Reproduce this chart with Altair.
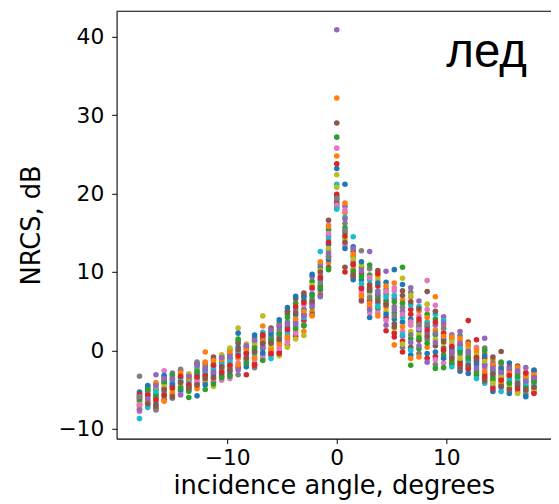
import altair as alt
import pandas as pd

# incidence angles (degrees), 49 beams
angles = [-18.0, -17.25, -16.5, -15.75, -15.0, -14.25, -13.5, -12.75, -12.0, -11.25,
          -10.5, -9.75, -9.0, -8.25, -7.5, -6.75, -6.0, -5.25, -4.5, -3.75,
          -3.0, -2.25, -1.5, -0.75, 0.0, 0.75, 1.5, 2.25, 3.0, 3.75,
          4.5, 5.25, 6.0, 6.75, 7.5, 8.25, 9.0, 9.75, 10.5, 11.25,
          12.0, 12.75, 13.5, 14.25, 15.0, 15.75, 16.5, 17.25, 18.0]

# NRCS values (dB) at each angle; position in a list = series number
left_far = [
    [-6.1, -5.4, -7.0, -5.8, -7.5, -6.5, -7.8, -3.3, -6.8, -8.7, -5.3, -7.2, -6.3, -5.6, -7.6, -6.0, -6.9, -5.9],
    [-5.2, -6.4, -4.6, -7.1, -5.8, -4.9, -6.9, -5.5, -6.1, -7.3, -4.5, -6.6, -5.0, -5.7, -6.2, -6.8],
    [-5.0, -6.6, -4.3, -7.4, -3.1, -5.6, -6.1, -7.6, -4.7, -5.3, -6.9, -4.1, -5.9, -6.3, -4.5, -7.1],
    [-4.2, -5.5, -3.4, -6.3, -4.8, -3.8, -2.6, -5.9, -4.5, -5.2, -3.2, -6.5, -4.0, -5.7, -3.6, -5.0],
    [-3.6, -5.0, -4.2, -5.7, -2.9, -4.6, -3.3, -6.1, -5.3, -3.9, -4.4, -5.5, -3.1, -4.8, -3.7, -5.9],
    [-4.0, -3.1, -5.2, -2.6, -4.6, -3.5, -5.5, -2.4, -4.3, -3.8, -5.0, -2.9, -4.8, -3.3, -5.7, -4.1],
    [-3.8, -4.5, -6.0, -3.2, -4.9, -3.5, -4.2, -5.1, -3.0, -4.0, -4.7, -3.6, -5.25, -4.4, -3.3, -4.8],
    [-5.8, -2.4, -3.6, -1.7, -4.2, -2.9, -3.9, -1.5, -4.6, -2.1, -3.2, -4.9, -2.7, -3.4, -1.9, -4.4],
    [-2.6, -0.2, -3.4, -1.6, -4.0, -2.2, -3.0, -1.9, -3.8, -2.8, -4.4, -1.5, -5.0, -3.2, -2.4, -3.6],
    [-2.0, -3.3, -1.1, -4.0, -2.6, -0.85, -3.7, -1.6, -4.6, -2.3, -3.0, -1.3, -4.3, -1.9, -2.8, -3.5],
    [-1.5, -2.6, -0.7, -3.3, -2.0, -1.0, -3.8, -2.3, -0.55, -1.8, -3.0, -1.2, -3.5, -2.8, -0.9, -2.1],
    [-1.0, -2.3, 0.1, -3.1, -1.6, -0.5, -3.6, -2.0, 0.3, -1.3, -2.7, -0.2, -3.3, -1.9, -0.8, -2.5],
]
left_near = [
    [0.4, -1.0, 1.2, -2.2, -0.4, 0.9, -1.6, -3.1, 2.85, -0.1, 2.2, -1.9, 1.45, -0.7, -2.5, 0.1],
    [-0.3, -1.4, 0.5, -3.1, -0.9, 0.2, -1.8, -0.6, 0.8, -1.2, -2.1, 0.0, -1.6, -0.4, 0.6, -1.0],
    [0.5, -0.8, 1.6, -1.7, 0.0, 1.1, -1.2, -2.2, 0.8, -0.4, 1.95, -1.0, 0.3, -1.9, 1.3, -0.2],
    [1.0, 3.1, 0.2, 1.8, -0.6, 1.4, -1.0, 0.6, 4.4, 2.3, -0.3, 1.2, -1.3, 2.0, 0.4, 0.9],
    [1.5, 0.2, 2.4, -0.6, 1.0, 2.85, -0.2, 1.8, 0.6, -1.05, 2.1, 0.0, 1.3, -0.4, 2.6, 0.9],
    [2.2, 0.6, 3.5, -0.2, 1.6, 3.0, 0.2, 2.6, -0.7, 1.2, 3.9, 0.9, 2.0, -0.4, 3.2, 1.4],
    [3.0, 1.4, 4.6, 0.7, 2.4, 5.0, 1.0, 3.6, 0.4, 2.0, 5.45, 1.7, 4.2, 2.7, 3.3, 4.9],
    [4.5, 2.5, 6.0, 1.8, 3.6, 6.6, 2.2, 5.2, 1.45, 3.1, 6.9, 4.0, 2.8, 5.6, 3.4, 4.8],
    [5.2, 2.4, 6.4, 3.8, 7.0, 4.6, 5.8, 3.3, 1.9, 4.2, 6.8, 5.0, 3.1, 6.1, 4.4, 7.3],
    [7.2, 5.0, 8.8, 6.0, 9.4, 4.6, 7.8, 5.5, 8.3, 6.6, 9.7, 4.4, 7.0, 8.0, 5.8, 6.3],
    [9.0, 7.4, 10.6, 8.2, 11.0, 7.0, 9.6, 8.6, 10.2, 12.6, 7.8, 11.3, 8.0, 9.3, 6.85, 10.0],
    [13.5, 11.2, 15.4, 12.0, 14.6, 10.6, 16.0, 12.8, 13.0, 14.2, 11.6, 15.8, 10.3, 13.8, 12.4, 16.6, 14.9, 11.9],
]
nadir = [
    [23.2, 32.2, 27.2, 23.8, 40.9, 29.0, 25.8, 18.6, 22.4, 21.2, 18.3, 24.8, 19.6, 19.9, 19.2, 18.9, 18.5, 19.4, 20.8, 18.0],
]
right_near = [
    [21.2, 17.6, 15.0, 10.0, 18.4, 10.6, 13.4, 16.2, 14.2, 17.0, 13.0, 18.8, 15.6, 14.6, 16.8, 13.8, 17.9, 15.3],
    [13.2, 10.4, 12.0, 9.4, 11.3, 12.6, 9.8, 10.9, 11.7, 14.5, 9.0, 12.3, 10.1, 11.0, 13.0, 9.6],
    [9.0, 7.2, 10.6, 8.0, 6.5, 9.8, 7.6, 12.7, 10.9, 8.5, 11.3, 6.9, 9.4, 7.9, 10.2, 6.3],
    [7.5, 5.6, 9.6, 6.3, 12.6, 8.4, 4.8, 10.4, 7.0, 9.0, 4.2, 6.0, 10.9, 8.0, 5.2, 7.8, 9.3, 6.7],
    [7.0, 9.5, 5.3, 8.2, 6.0, 10.2, 4.8, 7.6, 9.0, 5.6, 8.6, 4.4, 6.6, 9.8, 7.3, 6.3],
    [8.7, 5.5, 7.2, 4.2, 10.1, 6.4, 3.8, 7.8, 5.0, 6.8, 4.6, 8.2, 6.0, 2.5, 3.2, 5.8, 7.5],
    [10.3, 8.6, 4.8, 2.2, 6.6, 3.4, 7.6, 5.6, 2.8, 7.0, 4.0, 0.7, 6.2, 1.7, 5.2, 3.0, 8.0, 4.4],
    [3.6, 6.4, 10.6, 1.2, 5.0, 7.6, 2.4, 0.4, 9.2, 4.2, 8.4, 3.0, 6.0, -0.2, 1.8, 7.0, 4.6, 5.5, 0.8, 2.0],
    [4.0, 6.8, 1.5, 5.2, 8.0, 0.4, 3.2, 7.4, 2.4, 5.8, -0.6, -1.05, -1.9, 4.6, 1.0, 6.2, 3.6, 2.0, 7.0, 0.0],
    [2.5, 5.0, 0.2, 3.6, 6.3, 1.3, 4.4, -0.4, 2.0, 5.6, 3.0, -0.85, 1.6, 4.0, 0.6, 5.3, 2.8, 3.3],
    [3.0, 0.4, 4.6, -1.0, 2.2, 7.5, 8.9, 1.4, 5.9, 3.6, -0.4, 4.2, 0.9, 2.6, -1.5, 1.8, 5.2, 3.3],
    [2.0, 6.85, 4.0, -0.8, 3.2, 0.6, 5.75, -1.8, 1.4, 4.6, -0.2, 2.6, -2.3, 3.6, 1.0, 5.0, -1.2, 2.2],
]
right_far = [
    [1.4, 3.2, -0.6, 2.2, 4.3, 0.3, -1.6, 2.8, 0.9, 3.8, -1.0, 1.8, -2.2, 0.0, 3.5, 1.1],
    [0.3, -1.2, 1.5, -0.4, 2.0, -1.8, 0.8, -0.8, 1.2, -2.1, 0.0, 1.7, -1.5, 0.5, -0.2, -1.0],
    [0.0, 1.2, -1.4, 0.6, 2.4, -2.0, -0.6, 1.9, -1.0, 0.3, -2.65, 1.5, -0.3, -1.7, 0.9, -2.3],
    [-0.8, 0.5, -2.0, 3.8, -1.3, 1.05, -2.6, -0.4, 0.2, -1.6, -2.95, 0.8, -1.0, -2.3, -0.1, -1.9],
    [-1.4, -0.2, -2.6, 1.35, -1.0, -3.2, 0.4, -2.0, -0.6, -3.6, -1.7, 0.1, -2.9, -0.9, -2.3, -1.2],
    [-1.8, -0.4, -3.0, -1.0, 1.55, -3.6, -2.3, 0.3, -1.4, -4.2, -0.7, -2.7, 0.0, -3.3, -2.0, -3.9],
    [-2.6, -1.2, -3.8, -2.0, -4.6, -0.85, -3.2, -1.6, -4.2, -2.9, -5.25, -1.9, -3.5, -4.9, -2.3, -3.0],
    [-3.0, -2.0, -4.4, -3.6, -1.6, -0.15, -4.8, -2.6, -3.3, -5.25, -2.3, -4.0, -1.5, -3.8, -2.8, -4.6],
    [-1.6, -3.4, -4.8, -2.5, -4.0, -2.1, -5.2, -3.0, -4.4, -3.7, -5.5, -2.8, -4.2, -3.2, -2.3, -5.0],
    [-3.5, -2.4, -4.6, -3.0, -5.2, -2.0, -4.0, -2.8, -5.5, -3.8, -4.4, -2.2, -3.3, -4.9, -2.6, -4.2],
    [-4.0, -3.0, -5.2, -3.6, -2.2, -4.6, -2.8, -5.6, -3.4, -4.3, -5.9, -3.2, -4.8, -2.9, -3.9, -5.0],
    [-3.8, -2.8, -4.8, -3.3, -5.3, -2.6, -4.2, -3.6, -5.0, -4.5, -2.5, -3.1, -4.0, -5.5, -3.5, -4.7],
]

columns = left_far + left_near + nadir + right_near + right_far

tab10 = ["#1f77b4", "#ff7f0e", "#2ca02c", "#d62728", "#9467bd",
         "#8c564b", "#e377c2", "#7f7f7f", "#bcbd22", "#17becf"]

rows = []
for ang, vals in zip(angles, columns):
    for s, v in enumerate(vals):
        rows.append({"angle": ang, "nrcs": v, "series": s, "c": str(s % 10)})
df = pd.DataFrame(rows).sort_values(["series", "angle"]).reset_index(drop=True)
df["order"] = range(len(df))

W, H = 440, 433
FONT = "DejaVu Sans"

points = alt.Chart(df).mark_circle(size=32, opacity=1).encode(
    x=alt.X("angle:Q",
            scale=alt.Scale(domain=[-20.09, 19.55], nice=False, zero=False),
            axis=alt.Axis(values=[-10, 0, 10], title="incidence angle, degrees",
                          grid=False, tickSize=5, labelPadding=4, titlePadding=5,
                          labelFontSize=22, titleFontSize=26, labelFont=FONT, titleFont=FONT,
                          titleFontWeight="normal", labelColor="black", titleColor="black",
                          domainColor="black", tickColor="black", domainWidth=1.1)),
    y=alt.Y("nrcs:Q",
            scale=alt.Scale(domain=[-11.26, 43.27], nice=False, zero=False),
            axis=alt.Axis(values=[-10, 0, 10, 20, 30, 40], title="NRCS, dB",
                          grid=False, tickSize=5, labelPadding=8, titlePadding=14,
                          labelFontSize=22, titleFontSize=26, labelFont=FONT, titleFont=FONT,
                          titleFontWeight="normal", labelColor="black", titleColor="black",
                          domainColor="black", tickColor="black", domainWidth=1.1)),
    color=alt.Color("c:N", scale=alt.Scale(domain=[str(i) for i in range(10)], range=tab10),
                    legend=None),
    order=alt.Order("order:Q"),
)

top_line = alt.Chart(pd.DataFrame({"k": [0]})).mark_rule(color="black", strokeWidth=1.1).encode(
    x=alt.value(0), x2=alt.value(W), y=alt.value(0)
)

label = alt.Chart(pd.DataFrame({"t": ["лед"]})).mark_text(
    font="Liberation Sans", fontSize=48, align="left", baseline="alphabetic", color="black"
).encode(text="t:N", x=alt.value(334), y=alt.value(57))

chart = alt.layer(points, top_line, label).properties(
    width=W, height=H,
    autosize=alt.AutoSizeParams(type="none"),
    padding={"left": 110, "top": 0, "right": 0, "bottom": 65},
).configure_view(strokeWidth=0)

chart.save("out.html", embed_options={"renderer": "svg", "actions": False})
